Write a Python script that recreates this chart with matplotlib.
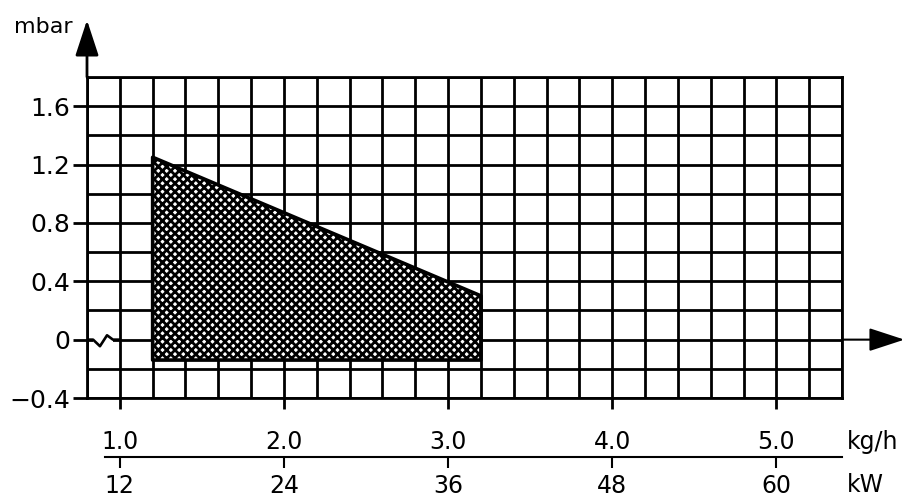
import matplotlib
matplotlib.use('Agg')
import matplotlib.pyplot as plt
from matplotlib.ticker import MultipleLocator

# operating range (hatched area): flow in kg/h vs. pressure in mbar
flow_kgh = [1.2, 3.2]
dp_upper = [1.25, 0.30]
dp_lower = [-0.14, -0.14]

# axis scales
y_ticks = [-0.4, 0, 0.4, 0.8, 1.2, 1.6]
y_labels = ['\u22120.4', '0', '0.4', '0.8', '1.2', '1.6']
kgh_ticks = [1.0, 2.0, 3.0, 4.0, 5.0]
kw_ticks = [12, 24, 36, 48, 60]
kw_per_kgh = 12

# axis break mark on the zero line (first column)
zig_x = [0.837, 0.879, 0.922, 0.958]
zig_y = [0.0, -0.045, 0.03, 0.0]

plt.rcParams['font.family'] = ['DejaVu Sans']
plt.rcParams['hatch.linewidth'] = 2.0
plt.rcParams['hatch.color'] = 'black'

fig = plt.figure(figsize=(9.16, 4.97), dpi=100)
ax = fig.add_axes([87 / 916, 99 / 497, 755 / 916, 321 / 497])
ax.set_xlim(0.8, 5.4)
ax.set_ylim(-0.4, 1.8)

lw = 2.0
for s in ax.spines.values():
    s.set_linewidth(lw)

# grid, every 0.2 on both axes
ax.xaxis.set_minor_locator(MultipleLocator(0.2))
ax.yaxis.set_minor_locator(MultipleLocator(0.2))
ax.grid(which='both', color='black', lw=lw)
ax.tick_params(which='minor', length=0)

ax.set_xticks(kgh_ticks)
ax.set_xticklabels([])
ax.tick_params(axis='x', which='major', direction='out', length=8, width=lw)

ax.set_yticks(y_ticks)
ax.set_yticklabels(y_labels, fontsize=18)
ax.tick_params(axis='y', which='major', direction='out', length=10, width=lw, pad=2)

# hatched operating field
ax.fill_between(flow_kgh, dp_lower, dp_upper, facecolor='white', edgecolor='black',
                hatch='xxxx', lw=2.6, zorder=3)

# break symbol on zero line
ax.plot([zig_x[0], zig_x[-1]], [0, 0], color='white', lw=4, zorder=3, solid_capstyle='butt')
ax.plot([0.8] + zig_x + [1.0], [0] + zig_y + [0], color='black', lw=1.9, zorder=4)

# axis arrows
arrow = dict(arrowstyle='-|>,head_length=1.1,head_width=0.36', mutation_scale=20,
             color='black', shrinkA=0, shrinkB=0)
ax.annotate('', xy=(0.8, 2.19), xytext=(0.8, 1.8), annotation_clip=False,
            arrowprops=dict(arrow, lw=lw))
ax.annotate('', xy=(5.78, 0), xytext=(5.4, 0), annotation_clip=False,
            arrowprops=dict(arrow, lw=1.5))
ax.text(0.71, 2.10, 'mbar', fontsize=16, ha='right', va='baseline')

# secondary scales: kg/h above the line, kW below
sec = ax.secondary_xaxis(-0.1836, functions=(lambda x: x * kw_per_kgh,
                                             lambda x: x / kw_per_kgh))
sec.set_xticks(kw_ticks)
sec.set_xticklabels([str(v) for v in kw_ticks], fontsize=17)
sec.spines['bottom'].set_linewidth(1.5)
sec.spines['bottom'].set_bounds(0.91 * kw_per_kgh, 5.4 * kw_per_kgh)
sec.tick_params(axis='x', direction='out', length=8, width=1.5, pad=4)

for v in kgh_ticks:
    ax.text(v, -0.75, f'{v:.1f}', fontsize=17, ha='center', va='baseline')
ax.text(5.43, -0.75, 'kg/h', fontsize=17, ha='left', va='baseline')
ax.text(5.43, -1.045, 'kW', fontsize=17, ha='left', va='baseline')

fig.savefig('out.png', dpi=100)
